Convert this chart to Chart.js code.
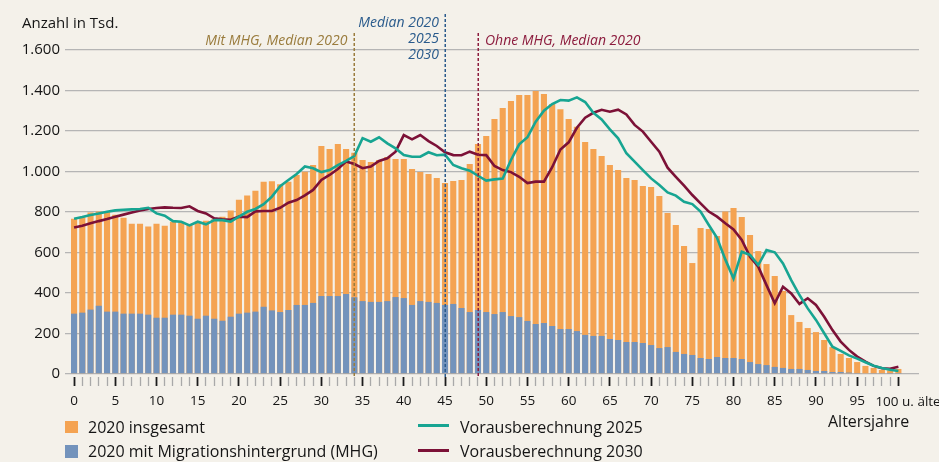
<!DOCTYPE html>
<html>
<head>
<meta charset="utf-8">
<script src="https://cdn.jsdelivr.net/npm/chart.js@4.4.1/dist/chart.umd.min.js"></script>
<style>
  html, body { margin: 0; padding: 0; background: #f4f1ea; }
  #wrap { width: 939px; height: 462px; position: relative; }
</style>
</head>
<body>
<div id="wrap"><canvas id="c" width="939" height="462"></canvas></div>
<script>
// ---- data (Anzahl in Tsd.) ----
const ages = Array.from({length: 101}, (_, i) => i);   // 0 ... 100 u. älter
const xTickLabels = ['0','5','10','15','20','25','30','35','40','45','50','55','60','65','70','75','80','85','90','95','100 u. älter'];
const yTickValues = [0, 200, 400, 600, 800, 1000, 1200, 1400, 1600];

const total2020 = [767,774,797,802,803,787,772,742,742,728,742,732,752,752,737,749,757,764,777,807,
  861,881,905,950,952,937,950,983,999,1032,1126,1111,1136,1111,1093,1057,1047,1057,1072,1062,
  1062,1012,997,988,968,943,953,958,1037,1136,1175,1259,1313,1348,1378,1378,1397,1383,1333,1308,
  1259,1221,1146,1111,1076,1032,1007,968,958,928,923,879,795,736,632,548,721,716,681,802,
  820,775,686,607,543,484,410,291,257,227,207,168,133,99,79,59,40,30,20,18,25];

const mhg2020 = [298,303,318,337,308,308,298,298,298,293,278,278,293,293,288,273,288,273,263,283,
  298,303,308,332,314,306,316,341,341,351,385,385,385,395,379,360,356,356,360,380,
  375,341,360,356,351,341,346,326,306,316,306,296,306,286,281,262,247,252,237,222,
  222,212,193,188,188,173,168,158,158,153,143,128,133,109,99,94,79,74,84,79,
  79,74,59,49,44,35,30,25,25,20,15,15,10,10,7,5,3,2,2,1,1];

const proj2025 = [767,775,785,793,801,808,811,813,815,821,793,782,755,752,734,752,739,760,760,752,
  777,801,815,839,876,928,958,988,1025,1016,997,1007,1032,1052,1076,1165,1147,1169,1139,1114,
  1081,1073,1073,1095,1080,1083,1032,1016,1004,979,955,961,965,1057,1134,1169,1246,1300,1333,1353,
  1350,1366,1343,1290,1257,1208,1164,1090,1049,1007,966,933,897,881,850,839,802,736,673,566,
  472,604,588,538,612,601,546,464,390,324,267,201,135,114,92,76,58,41,30,21,15];

const proj2030 = [723,732,744,755,765,777,787,797,807,815,820,823,821,820,828,805,793,769,764,762,
  777,775,803,805,805,821,846,859,882,909,958,983,1012,1049,1037,1016,1024,1052,1065,1098,
  1180,1159,1180,1150,1126,1095,1081,1080,1098,1083,1081,1027,1007,997,974,943,950,950,1021,1109,
  1144,1216,1266,1290,1305,1295,1305,1282,1230,1197,1147,1098,1019,974,930,884,843,802,777,744,
  714,662,579,530,439,349,431,398,346,374,341,283,217,160,119,86,61,40,28,26,36];

const medianAges = [34, 45, 49];   // Mit MHG 2020 | Median 2020/2025/2030 | Ohne MHG 2020

// ---- styles ----
const C = {
  orange: '#f4a352', blue: '#7393bc', teal: '#17a592', red: '#7c1137',
  grid: '#b5b5b5', text: '#151515', gold: '#9a7c3d', medBlue: '#2a5b8c', medRed: '#8c1b3d'
};
const FONT = "'Open Sans', 'Noto Sans', sans-serif";

const deNum = v => String(v).replace(/\B(?=(\d{3})+(?!\d))/g, '.');

const overlay = {
  id: 'overlay',
  afterDatasetsDraw(chart) {
    const ctx = chart.ctx;
    const xs = chart.scales.x;
    const bottom = chart.chartArea.bottom;
    const meds = [
      {v: medianAges[0], col: C.gold, top: 33},
      {v: medianAges[1], col: C.medBlue, top: 14},
      {v: medianAges[2], col: C.medRed, top: 33}
    ];
    ctx.save();
    ctx.lineWidth = 1.5;
    ctx.setLineDash([3, 2]);
    meds.forEach(m => {
      const x = Math.round(xs.getPixelForValue(m.v)) + 0.25;
      ctx.strokeStyle = m.col;
      ctx.beginPath(); ctx.moveTo(x, m.top); ctx.lineTo(x, bottom); ctx.stroke();
    });
    ctx.setLineDash([]);
    ctx.font = "italic 14px " + FONT;
    ctx.textBaseline = 'alphabetic';
    const gx = xs.getPixelForValue(medianAges[0]);
    ctx.fillStyle = C.gold; ctx.textAlign = 'right';
    ctx.fillText('Mit MHG, Median 2020', gx - 7, 45);
    const bx = xs.getPixelForValue(medianAges[1]);
    ctx.fillStyle = C.medBlue;
    ctx.fillText('Median 2020', bx - 6, 26.5);
    ctx.fillText('2025', bx - 6, 42.5);
    ctx.fillText('2030', bx - 6, 58.5);
    const rx = xs.getPixelForValue(medianAges[2]);
    ctx.fillStyle = C.medRed; ctx.textAlign = 'left';
    ctx.fillText('Ohne MHG, Median 2020', rx + 7, 45);
    ctx.restore();
  },
  afterDraw(chart) {
    const ctx = chart.ctx;
    const xs = chart.scales.x;
    ctx.save();
    ctx.fillStyle = C.text;
    ctx.textBaseline = 'alphabetic';
    ctx.textAlign = 'left';
    ctx.font = "15px " + FONT;
    ctx.fillText('Anzahl in Tsd.', 22, 27.5);
    // last x label
    ctx.font = "13.5px " + FONT;
    ctx.fillText(xTickLabels[xTickLabels.length - 1], xs.getPixelForValue(100) - 23, 405.5);
    ctx.font = "16px " + FONT;
    ctx.fillText('Altersjahre', 828, 426.5);
    // legend
    const ds = chart.data.datasets;
    ctx.fillStyle = ds[1].backgroundColor; ctx.fillRect(65, 421, 13, 12);
    ctx.fillStyle = ds[0].backgroundColor; ctx.fillRect(65, 445, 13, 13);
    ctx.lineWidth = 3;
    ctx.strokeStyle = ds[2].borderColor;
    ctx.beginPath(); ctx.moveTo(418, 425.5); ctx.lineTo(449, 425.5); ctx.stroke();
    ctx.strokeStyle = ds[3].borderColor;
    ctx.beginPath(); ctx.moveTo(418, 450.5); ctx.lineTo(449, 450.5); ctx.stroke();
    ctx.fillStyle = C.text;
    ctx.fillText(ds[1].label, 88, 433);
    ctx.fillText(ds[0].label, 88, 457);
    ctx.fillText(ds[2].label, 460, 433);
    ctx.fillText(ds[3].label, 460, 457);
    ctx.restore();
  }
};

new Chart(document.getElementById('c'), {
  type: 'bar',
  data: {
    labels: ages,
    datasets: [
      { label: '2020 mit Migrationshintergrund (MHG)', data: mhg2020, backgroundColor: C.blue, order: 1,
        barPercentage: 0.74, categoryPercentage: 1 },
      { label: '2020 insgesamt', data: total2020, backgroundColor: C.orange, order: 2,
        barPercentage: 0.74, categoryPercentage: 1 },
      { type: 'line', label: 'Vorausberechnung 2025', data: proj2025, borderColor: C.teal, borderWidth: 2.6,
        pointRadius: 0, fill: false, tension: 0, order: 0 },
      { type: 'line', label: 'Vorausberechnung 2030', data: proj2030, borderColor: C.red, borderWidth: 2.6,
        pointRadius: 0, fill: false, tension: 0, order: 0 }
    ]
  },
  options: {
    responsive: false,
    animation: false,
    layout: { padding: { top: 50, left: 0, right: 20, bottom: 0 } },
    plugins: { legend: { display: false }, tooltip: { enabled: false } },
    scales: {
      x: {
        type: 'linear', min: -1.1, max: 102.5, stacked: true, offset: false,
        afterBuildTicks: s => { s.ticks = ages.map(a => ({ value: a })); },
        afterFit: s => { s.height = 85; s.paddingLeft = 0; s.paddingRight = 0; },
        ticks: {
          stepSize: 1, autoSkip: false, maxRotation: 0, minRotation: 0, padding: 7,
          font: { family: FONT, size: 13.5 }, color: C.text,
          callback: v => (v % 5 === 0 && v < 100) ? xTickLabels[v / 5] : ''
        },
        grid: {
          offset: false, drawOnChartArea: false, drawTicks: true, tickLength: 9,
          tickColor: c => (c.tick && c.tick.value % 5 === 0) ? '#1c1c1c' : '#a9a9a9',
          tickWidth: c => (c.tick && c.tick.value % 5 === 0) ? 1.8 : 1.3
        },
        border: { display: false }
      },
      y: {
        min: -14.8, max: 1600,
        afterBuildTicks: s => { s.ticks = yTickValues.map(v => ({ value: v })); },
        afterFit: s => { s.width = 65; },
        ticks: { font: { family: FONT, size: 15 }, color: C.text, padding: 5, callback: v => deNum(v) },
        grid: { color: C.grid, lineWidth: 1.3, drawTicks: false },
        border: { display: false }
      }
    }
  },
  plugins: [overlay]
});
</script>
</body>
</html>
